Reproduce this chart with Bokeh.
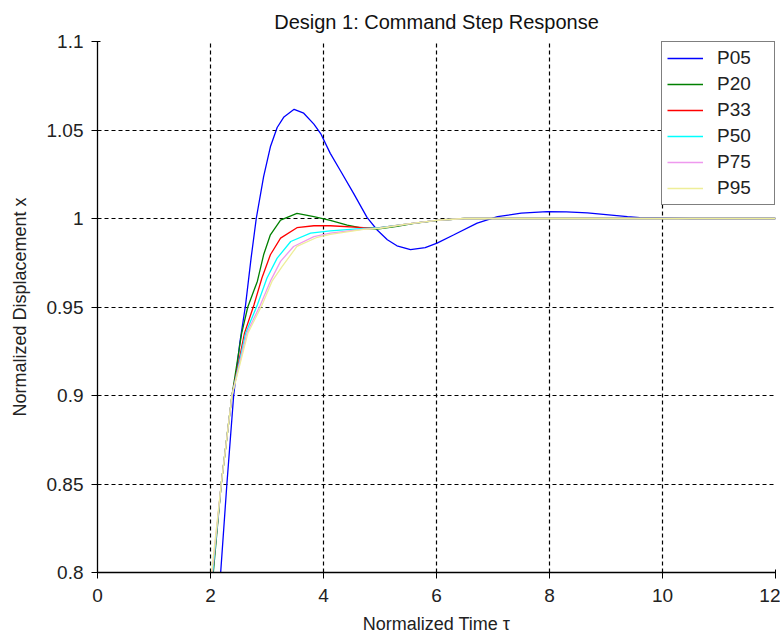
from bokeh.plotting import figure
from bokeh.models import FixedTicker, Range1d, Legend, LegendItem
from bokeh.embed import file_html
from bokeh.resources import INLINE

# ---------------- data ----------------
series_names = ["P05", "P20", "P33", "P50", "P75", "P95"]
series_colors = ["#0000FF", "#008000", "#FF0000", "#00FFFF", "#EE99EE", "#EEEE99"]

t_p05 = [2.18, 2.29, 2.41, 2.52, 2.62, 2.72, 2.81, 2.94, 3.06, 3.18, 3.30, 3.48,
         3.65, 3.83, 3.95, 4.12, 4.30, 4.53, 4.77, 4.95, 5.13, 5.30, 5.54, 5.80,
         6.01, 6.30, 6.72, 7.08, 7.50, 7.96, 8.30, 8.67, 9.00, 9.38, 9.60, 10.5, 12.0]
x_p05 = [0.800, 0.850, 0.900, 0.930, 0.951, 0.978, 1.000, 1.0236, 1.0405, 1.0514, 1.0574, 1.0617,
         1.0595, 1.0533, 1.0480, 1.0368, 1.0270, 1.0143, 1.0006, 0.9935, 0.9880, 0.9846, 0.9824, 0.9836,
         0.9861, 0.9907, 0.9974, 1.0011, 1.0030, 1.0039, 1.0037, 1.0032, 1.0022, 1.0011, 1.0005, 1.0000, 1.0000]

t_p20 = [2.05, 2.19, 2.38, 2.55, 2.66, 2.83, 2.94, 3.06, 3.24, 3.53, 3.83, 4.12,
         4.42, 4.71, 4.95, 5.30, 5.60, 6.02, 6.50, 7.0, 12.0]
x_p20 = [0.800, 0.850, 0.900, 0.935, 0.950, 0.9646, 0.9795, 0.9908, 0.9991, 1.0029, 1.0011, 0.9990,
         0.9963, 0.9944, 0.9940, 0.9955, 0.9972, 0.9990, 1.0000, 1.0000, 1.0000]

t_p33 = [2.04, 2.19, 2.38, 2.60, 2.77, 2.91, 3.06, 3.24, 3.53, 3.83, 4.12,
         4.71, 5.00, 5.50, 6.00, 6.50, 12.0]
x_p33 = [0.800, 0.850, 0.900, 0.935, 0.9513, 0.9664, 0.9795, 0.9889, 0.9948, 0.9959, 0.9959,
         0.9948, 0.9948, 0.9970, 0.9990, 1.0000, 1.0000]

t_p50 = [2.04, 2.19, 2.38, 2.62, 2.83, 3.00, 3.18, 3.42, 3.77, 4.12,
         4.71, 5.00, 5.50, 6.00, 6.50, 12.0]
x_p50 = [0.800, 0.850, 0.900, 0.935, 0.9513, 0.9664, 0.9776, 0.9870, 0.9917, 0.9930,
         0.9944, 0.9948, 0.9970, 0.9990, 1.0000, 1.0000]

t_p75 = [2.03, 2.19, 2.38, 2.64, 2.88, 3.06, 3.24, 3.47, 3.83, 4.12,
         4.71, 5.00, 5.50, 6.00, 6.50, 12.0]
x_p75 = [0.800, 0.850, 0.900, 0.935, 0.951, 0.9646, 0.9758, 0.9842, 0.9898, 0.9917,
         0.9940, 0.9946, 0.9970, 0.9990, 1.0000, 1.0000]

t_p95 = [2.02, 2.19, 2.38, 2.66, 2.91, 3.09, 3.27, 3.53, 3.89, 4.12,
         4.71, 5.00, 5.50, 6.00, 6.50, 12.0]
x_p95 = [0.800, 0.850, 0.900, 0.935, 0.951, 0.9646, 0.9730, 0.9842, 0.9894, 0.9910,
         0.9938, 0.9945, 0.9970, 0.9990, 1.0000, 1.0000]

series_t = [t_p05, t_p20, t_p33, t_p50, t_p75, t_p95]
series_x = [x_p05, x_p20, x_p33, x_p50, x_p75, x_p95]

x_ticks = [0, 2, 4, 6, 8, 10, 12]
y_ticks = [0.8, 0.85, 0.9, 0.95, 1.0, 1.05, 1.1]
y_tick_labels = ["0.8", "0.85", "0.9", "0.95", "1", "1.05", "1.1"]

title_text = "Design 1: Command Step Response"
x_label = "Normalized Time \u03c4"
y_label = "Normalized Displacement x"

FONT = "Liberation Sans"

# ---------------- figure ----------------
p = figure(width=780, height=636, output_backend="svg", toolbar_location=None,
           x_range=Range1d(0, 12), y_range=Range1d(0.8, 1.1),
           min_border_left=97, min_border_right=5, min_border_top=0, min_border_bottom=62)

p.title.text = title_text
p.title.align = "center"
p.title.text_font = FONT
p.title.text_font_size = "20px"
p.title.text_font_style = "normal"
p.title.text_color = "#111111"
p.title.offset = 0
p.title.standoff = 17

p.outline_line_color = None
p.background_fill_color = "white"
p.border_fill_color = "white"

for ax in (p.xaxis[0], p.yaxis[0]):
    ax.axis_line_color = "black"
    ax.axis_line_width = 1.3
    ax.major_tick_line_color = "black"
    ax.major_tick_out = 6
    ax.major_tick_in = 3
    ax.minor_tick_line_color = None
    ax.major_label_text_font = FONT
    ax.major_label_text_font_size = "19px"
    ax.major_label_text_color = "#222222"
    ax.axis_label_text_font = FONT
    ax.axis_label_text_font_size = "18px"
    ax.axis_label_text_font_style = "normal"
    ax.axis_label_text_color = "#222222"

p.xaxis.ticker = FixedTicker(ticks=x_ticks)
p.yaxis.ticker = FixedTicker(ticks=y_ticks)
p.yaxis.major_label_overrides = {v: s for v, s in zip(y_ticks, y_tick_labels)}
p.xaxis.axis_label = x_label
p.yaxis.axis_label = y_label
p.xaxis.major_label_standoff = 10
p.yaxis.major_label_standoff = 8
p.xaxis.axis_label_standoff = 9
p.yaxis.axis_label_standoff = 14

for g in (p.xgrid[0], p.ygrid[0]):
    g.grid_line_color = "black"
    g.grid_line_dash = "4 3"
    g.grid_line_width = 1.2
    g.grid_line_alpha = 1.0

items = []
for name, col, ts, xs in zip(series_names, series_colors, series_t, series_x):
    r = p.line(ts, xs, line_color=col, line_width=1.3)
    items.append(LegendItem(label=name, renderers=[r]))

legend = Legend(items=items, location="top_right", margin=0,
                border_line_color="black", border_line_width=1.5,
                background_fill_color="white", background_fill_alpha=1.0,
                label_text_font=FONT, label_text_font_size="19px", label_text_color="#222222",
                glyph_width=36, glyph_height=20, label_height=20, label_width=52,
                label_standoff=14, spacing=4, padding=5)
p.add_layout(legend, "center")

open("out.html", "w").write(file_html(p, INLINE))
